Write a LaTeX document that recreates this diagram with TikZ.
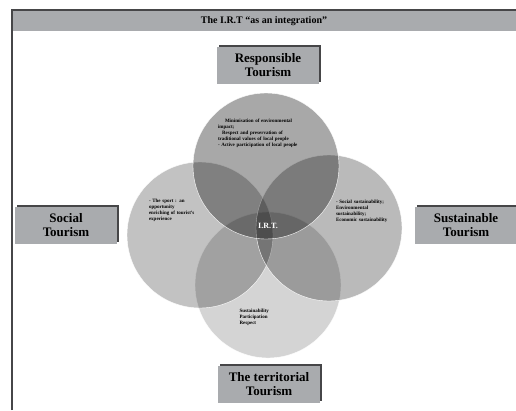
\documentclass[tikz,border=0pt]{standalone}
\usepackage{fontspec}
\setmainfont{Liberation Serif}
\usetikzlibrary{shadows}
\definecolor{barcolor}{RGB}{169, 171, 174}
\definecolor{shadecolor}{RGB}{70, 70, 72}
\tikzstyle{tourism} = [rectangle, minimum width=102pt, minimum height=37pt,
                       inner sep=1pt, align=center, fill=barcolor,
                       font=\fontsize{13}{14}\selectfont\bfseries,
                       general shadow={fill=shadecolor, shadow xshift=2pt, shadow yshift=2pt}]
\tikzstyle{ring} = [circle, minimum size=146pt, inner sep=0pt, draw=white, line width=0.4pt]
\tikzstyle{note} = [inner sep=0pt, align=left, font=\fontsize{5}{6}\selectfont\bfseries]

\begin{document}
\begin{tikzpicture}[x=1pt, y=-1pt]
        \useasboundingbox (0,0) rectangle (516,410);

        %Title bar
        \fill[barcolor] (12,11) rectangle (516,31);
        \draw[shadecolor, line width=1.2pt] (12,410) -- (12,10) -- (516,10);
        \node (Title) [font=\fontsize{10}{11}\selectfont\bfseries] at (264,21) {The I.R.T ``as an integration''};

        %Circles
        \node (Bottom) [ring, fill=black, fill opacity=0.17] at (268,285) {};
        \node (Left) [ring, fill=black, fill opacity=0.24] at (200,235) {};
        \node (Right) [ring, fill=black, fill opacity=0.27] at (329,228) {};
        \node (Top) [ring, fill=black, fill opacity=0.34] at (266,166) {};

        %Texts in circles
        \node (TopText) [note, text width=104pt] at (270,133) {\hspace*{7pt}Minimisation of environmental\\impact;\\\hspace*{4pt}Respect and preservation of\\traditional values of local people\\- Active participation of local people};
        \node (LeftText) [note, text width=50pt] at (174,210) {- The sport : an\\opportunity\\enriching of tourist's\\experience};
        \node (RightText) [note, text width=56pt] at (364,211) {- Social sustainability;\\Environmental\\sustainability;\\Economic sustainability};
        \node (BottomText) [note, text width=45pt] at (262,317) {Sustainability\\Participation\\Respect};
        \node (Core) [font=\fontsize{8}{9}\selectfont\bfseries, text=white] at (268,226) {I.R.T.};

        %Tourism boxes
        \node (Responsible) [tourism] at (268,65) {Responsible\\Tourism};
        \node (Social) [tourism] at (66,225) {Social\\Tourism};
        \node (Sustainable) [tourism] at (466,225) {Sustainable\\Tourism};
        \node (Territorial) [tourism] at (269,384) {The territorial\\Tourism};

    \end{tikzpicture}
\end{document}
